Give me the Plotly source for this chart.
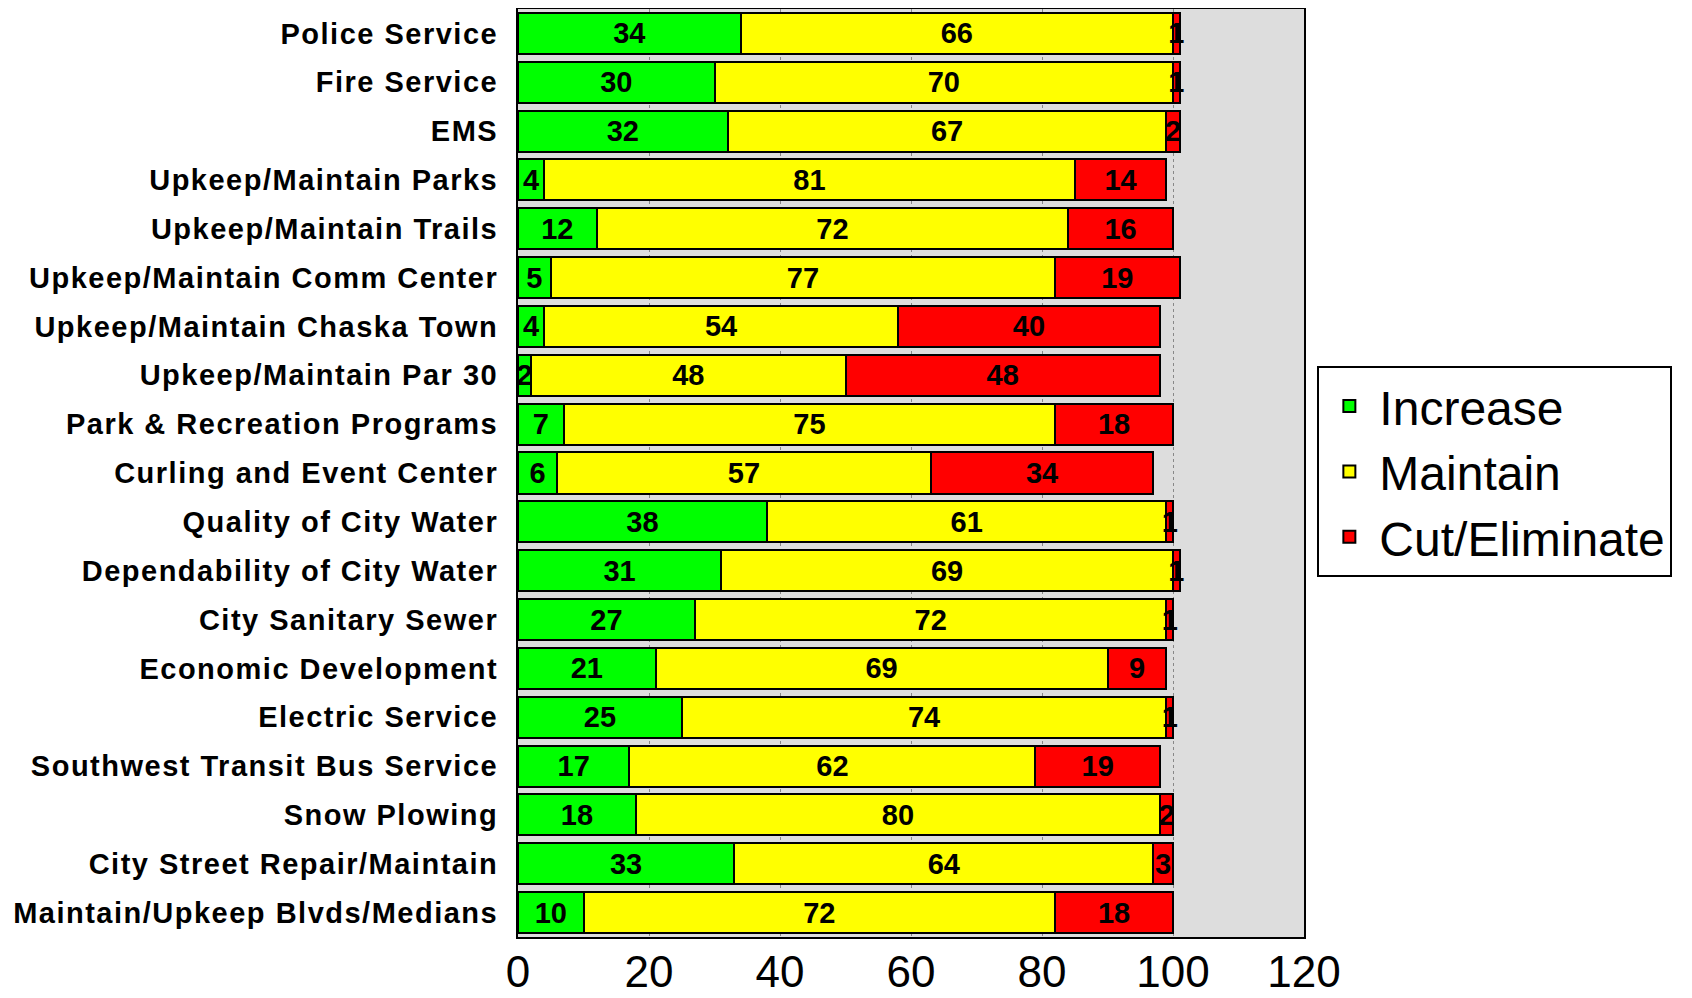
import plotly.graph_objects as go

categories = [
    "Police Service", "Fire Service", "EMS", "Upkeep/Maintain Parks",
    "Upkeep/Maintain Trails", "Upkeep/Maintain Comm Center",
    "Upkeep/Maintain Chaska Town", "Upkeep/Maintain Par 30",
    "Park & Recreation Programs", "Curling and Event Center",
    "Quality of City Water", "Dependability of City Water",
    "City Sanitary Sewer", "Economic Development", "Electric Service",
    "Southwest Transit Bus Service", "Snow Plowing",
    "City Street Repair/Maintain", "Maintain/Upkeep Blvds/Medians",
]
increase = [34, 30, 32, 4, 12, 5, 4, 2, 7, 6, 38, 31, 27, 21, 25, 17, 18, 33, 10]
maintain = [66, 70, 67, 81, 72, 77, 54, 48, 75, 57, 61, 69, 72, 69, 74, 62, 80, 64, 72]
cut = [1, 1, 2, 14, 16, 19, 40, 48, 18, 34, 1, 1, 1, 9, 1, 19, 2, 3, 18]
series_names = ["Increase", "Maintain", "Cut/Eliminate"]
colors = ["#00FF00", "#FFFF00", "#FF0000"]
x_ticks = [0, 20, 40, 60, 80, 100, 120]

fig = go.Figure()
for name, vals, col in zip(series_names, [increase, maintain, cut], colors):
    fig.add_trace(go.Bar(
        y=categories, x=vals, name=name, orientation="h",
        marker=dict(color=col, line=dict(color="black", width=2)),
        text=vals, textposition="inside", insidetextanchor="middle",
        constraintext="none", cliponaxis=False,
        textfont=dict(family="Liberation Sans, Arial", size=29, color="black", weight="bold"),
    ))

# page body has an 8px margin, so the figure is offset by 8px
fig.update_layout(
    barmode="stack",
    bargap=0.16,
    width=1684, height=990,
    margin=dict(l=510, r=388, t=1, b=61, autoexpand=False),
    paper_bgcolor="white",
    plot_bgcolor="#DDDDDD",
    font=dict(family="Liberation Sans, Arial", color="black"),
    legend=dict(
        x=1.017, y=0.615, xanchor="left", yanchor="top",
        font=dict(size=48, family="Liberation Sans, Arial"),
        bordercolor="black", borderwidth=2, bgcolor="white",
        traceorder="normal", itemwidth=50, tracegroupgap=10,
    ),
    xaxis=dict(
        range=[0, 120], tickvals=x_ticks, ticktext=[str(t) for t in x_ticks],
        showgrid=True, gridcolor="#888888", griddash="dot", gridwidth=1,
        showline=True, linecolor="black", linewidth=2, mirror=True,
        ticks="", zeroline=False, ticklabelstandoff=-5,
        tickfont=dict(size=44, family="Liberation Sans, Arial"),
    ),
    yaxis=dict(
        autorange="reversed", categoryorder="array", categoryarray=categories,
        showline=True, linecolor="black", linewidth=2, mirror=True,
        ticks="", ticklabelstandoff=12,
        tickfont=dict(size=29, family="Liberation Sans, Arial", weight="bold"),
    ),
)

post = ("document.querySelectorAll('.ytick text').forEach(function(t){"
        "t.setAttribute('letter-spacing','1.5px');});")
fig.write_html("out.html", post_script=post)
